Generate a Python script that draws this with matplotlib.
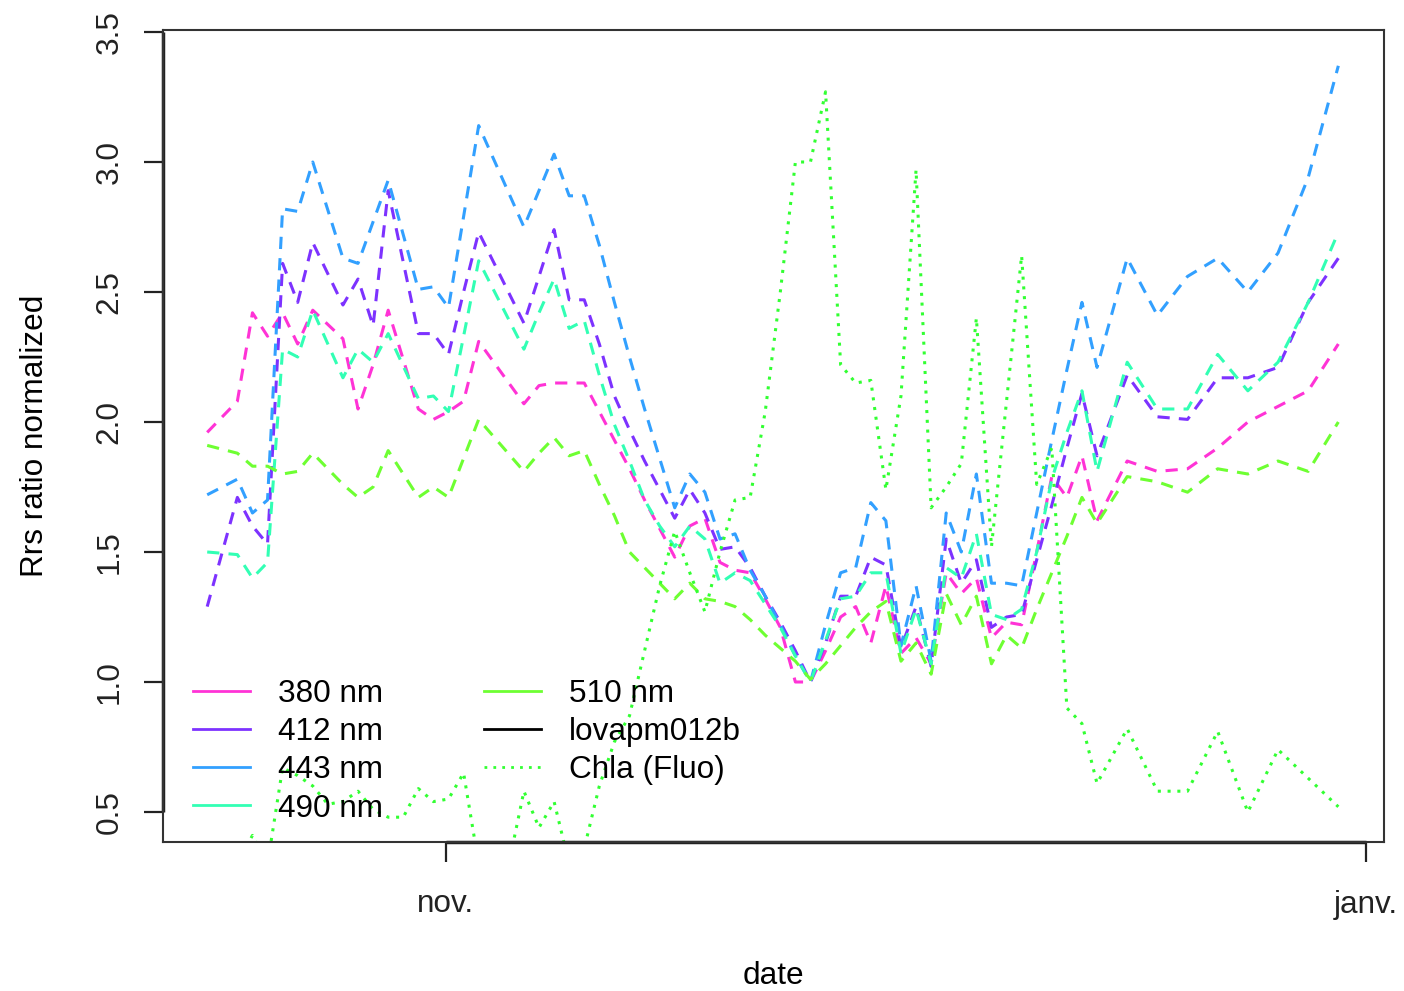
import pandas as pd
import matplotlib
matplotlib.use("Agg")
import matplotlib.pyplot as plt
from matplotlib.lines import Line2D

plt.rcParams['font.family'] = ['Liberation Sans', 'DejaVu Sans']
plt.rcParams['font.size'] = 22.7

# days relative to 1 Nov (Rrs profiles)
rrs_days = [-16, -14, -13, -12, -11, -10, -9, -7, -6, -5, -4, -2, -1, 0, 1, 2,
            5, 6, 7, 8, 9, 10, 11, 12, 13, 14, 15, 16, 17, 18, 19, 20, 21, 22,
            23, 24, 25, 26, 27, 28, 29, 30, 31, 32, 33, 34, 35, 36, 37, 38, 39,
            40, 41, 42, 43, 45, 47, 49, 51, 53, 55, 57, 59]

rrs_380 = [1.96, 2.08, 2.42, 2.33, 2.42, 2.30, 2.43, 2.32, 2.05, 2.22, 2.43, 2.05, 2.01, 2.04, 2.08, 2.31,
           2.07, 2.14, 2.15, 2.15, 2.15, 2.04, 1.93, 1.82, 1.70, 1.59, 1.48, 1.60, 1.63, 1.46, 1.43, 1.42, 1.32, 1.21,
           1.00, 1.00, 1.12, 1.25, 1.29, 1.15, 1.37, 1.11, 1.17, 1.07, 1.42, 1.34, 1.40, 1.17, 1.23, 1.22, 1.50,
           1.79, 1.71, 1.87, 1.62, 1.85, 1.81, 1.82, 1.90, 2.00, 2.06, 2.12, 2.30]
rrs_412 = [1.29, 1.71, 1.60, 1.53, 2.61, 2.46, 2.69, 2.45, 2.55, 2.37, 2.89, 2.34, 2.34, 2.26, 2.50, 2.73,
           2.38, 2.56, 2.74, 2.47, 2.47, 2.30, 2.10, 1.97, 1.85, 1.74, 1.63, 1.74, 1.65, 1.51, 1.52, 1.44, 1.33, 1.23,
           1.12, 1.00, 1.15, 1.33, 1.33, 1.48, 1.45, 1.13, 1.29, 1.06, 1.55, 1.38, 1.47, 1.21, 1.25, 1.26, 1.47,
           1.68, 1.90, 2.11, 1.87, 2.18, 2.02, 2.01, 2.17, 2.17, 2.21, 2.46, 2.63]
rrs_443 = [1.72, 1.78, 1.65, 1.70, 2.82, 2.81, 3.00, 2.63, 2.61, 2.77, 2.93, 2.51, 2.52, 2.44, 2.79, 3.14,
           2.75, 2.89, 3.03, 2.87, 2.87, 2.68, 2.46, 2.25, 2.05, 1.86, 1.67, 1.80, 1.73, 1.55, 1.57, 1.43, 1.33, 1.22,
           1.10, 1.00, 1.22, 1.42, 1.44, 1.69, 1.62, 1.14, 1.37, 1.08, 1.65, 1.50, 1.80, 1.38, 1.38, 1.37, 1.65,
           1.93, 2.20, 2.46, 2.21, 2.63, 2.41, 2.56, 2.63, 2.50, 2.65, 2.94, 3.37]
rrs_490 = [1.50, 1.49, 1.40, 1.46, 2.28, 2.25, 2.43, 2.17, 2.28, 2.23, 2.34, 2.09, 2.10, 2.04, 2.33, 2.62,
           2.28, 2.42, 2.55, 2.36, 2.39, 2.18, 1.99, 1.85, 1.70, 1.60, 1.52, 1.60, 1.55, 1.38, 1.42, 1.39, 1.30, 1.21,
           1.10, 1.00, 1.16, 1.32, 1.33, 1.42, 1.42, 1.11, 1.28, 1.07, 1.44, 1.40, 1.57, 1.26, 1.24, 1.28, 1.50,
           1.78, 1.96, 2.12, 1.81, 2.23, 2.05, 2.05, 2.26, 2.12, 2.23, 2.46, 2.73]
rrs_510 = [1.91, 1.88, 1.83, 1.83, 1.80, 1.81, 1.88, 1.76, 1.71, 1.75, 1.89, 1.71, 1.75, 1.71, 1.86, 2.01,
           1.81, 1.88, 1.94, 1.87, 1.89, 1.76, 1.64, 1.50, 1.44, 1.38, 1.32, 1.38, 1.32, 1.31, 1.29, 1.24, 1.18, 1.13,
           1.08, 1.01, 1.07, 1.14, 1.21, 1.27, 1.31, 1.08, 1.15, 1.03, 1.34, 1.22, 1.33, 1.07, 1.18, 1.13, 1.28,
           1.42, 1.56, 1.71, 1.61, 1.79, 1.77, 1.73, 1.82, 1.80, 1.85, 1.81, 2.00]

# fluorescence chla (normalized), own sampling
chla_days = [-14, -13, -12, -11, -10, -9, -8, -7, -6, -5, -4, -3, -2, -1, 0, 1, 2, 4, 5, 6, 7, 8,
             9, 10, 11, 12, 13, 14, 15, 16, 17, 18, 19, 20, 21, 22, 23, 24, 25, 26, 27, 28, 29,
             30, 31, 32, 33, 34, 35, 36, 37, 38, 39, 40, 41, 42, 43, 45, 47, 49, 51, 53, 55, 57, 59]
chla = [0.30, 0.41, 0.30, 0.67, 0.64, 0.60, 0.53, 0.54, 0.58, 0.51, 0.48, 0.48, 0.59, 0.54, 0.55, 0.65, 0.30, 0.30,
        0.58, 0.44, 0.54, 0.30, 0.36, 0.60, 0.77, 0.87, 1.12, 1.37, 1.58, 1.42, 1.27, 1.50, 1.70, 1.71,
        2.04, 2.50, 3.00, 3.00, 3.27, 2.22, 2.15, 2.16, 1.74, 2.10, 2.97, 1.67, 1.75, 1.84, 2.40, 1.52,
        2.08, 2.64, 1.76, 1.90, 0.90, 0.84, 0.61, 0.82, 0.58, 0.58, 0.81, 0.50, 0.74, 0.63, 0.52]

labels = ['380 nm', '412 nm', '443 nm', '490 nm', '510 nm']
colors = ['#FF33D6', '#7D32FF', '#32A0FF', '#32FFB4', '#6EFF32']
chla_color = '#32FF32'

nov1 = pd.Timestamp('2013-11-01')
t_rrs = nov1 + pd.to_timedelta(rrs_days, unit='D') + pd.Timedelta(hours=4)
t_chla = nov1 + pd.to_timedelta(chla_days, unit='D') + pd.Timedelta(hours=4)

fig = plt.figure(figsize=(14.04, 9.91), dpi=100)
ax = fig.add_axes([163/1404, 149/991, 1221/1404, 812/991])

for vals, c in zip([rrs_380, rrs_412, rrs_443, rrs_490, rrs_510], colors):
    ax.plot(t_rrs, vals, color=c, lw=2.2, linestyle=(0, (4, 3)))
ax.plot(t_chla, chla, color=chla_color, lw=2.2, linestyle=(0, (1, 2.2)))

ax.set_ylim(0.3846, 3.5077)
ax.set_xlim(nov1 - pd.Timedelta(days=18.764), nov1 + pd.Timedelta(days=62.194))

janv = pd.Timestamp('2014-01-01')
ax.set_xticks([nov1, janv])
ax.set_xticklabels(['nov.', 'janv.'])
ax.set_yticks([0.5, 1.0, 1.5, 2.0, 2.5, 3.0, 3.5])
ax.set_yticklabels(['0.5', '1.0', '1.5', '2.0', '2.5', '3.0', '3.5'], rotation=90, va='center')

ax.tick_params(axis='x', length=14.4, width=1.6, pad=19.8, colors='#222222')
ax.tick_params(axis='y', length=13.7, width=1.6, pad=14, colors='#222222')
for s in ax.spines.values():
    s.set_linewidth(1.5)
    s.set_color('#333333')

# R-style axis lines over the box
ax.plot([nov1, janv], [0.3846, 0.3846], color='#222222', lw=2.5, clip_on=False, solid_capstyle='butt')
ax.plot([ax.get_xlim()[0]] * 2, [0.5, 3.5], color='#222222', lw=2.5, clip_on=False, solid_capstyle='butt')

ax.set_xlabel('date')
ax.xaxis.set_label_coords(0.5, -0.147)
ax.set_ylabel('Rrs ratio normalized')
ax.yaxis.set_label_coords(-0.0925, 0.5)

handles = [Line2D([], [], color=c, lw=2) for c in colors]
handles.append(Line2D([], [], color='black', lw=2))
handles.append(Line2D([], [], color=chla_color, lw=2, linestyle=(0, (1, 2.2))))
leg = fig.legend(handles, labels + ['lovapm012b', 'Chla (Fluo)'], ncol=2, frameon=False,
                 loc='lower left', bbox_to_anchor=(193/1404, 0.169), borderpad=0, borderaxespad=0,
                 handlelength=1.81, handletextpad=0.89, columnspacing=3.2, labelspacing=0.26,
                 fontsize=22.7)

fig.savefig('out.png', dpi=100)
